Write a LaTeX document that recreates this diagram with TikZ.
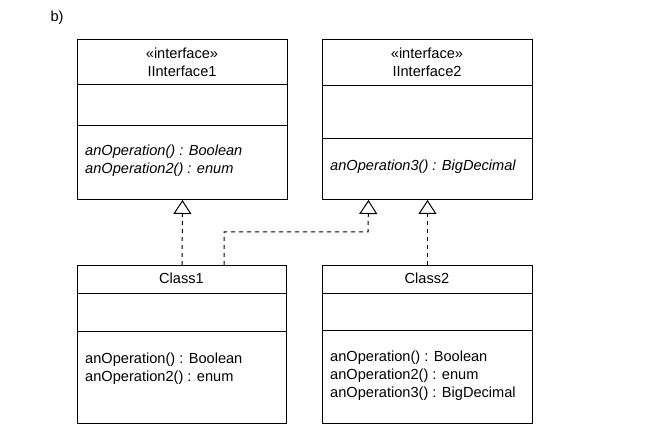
\documentclass[tikz,border=0pt]{standalone}
\usepackage{fontspec}
\setmainfont{Liberation Sans}
\usetikzlibrary{arrows.meta}
\tikzset{
	umlbox/.style={draw, line width=1pt, anchor=north west, inner sep=0pt},
	optext/.style={anchor=west, align=left, inner sep=0pt, font=\fontsize{14.6}{18}\selectfont},
	headtext/.style={align=center, inner sep=0pt, font=\fontsize{14.6}{18}\selectfont},
	realize/.style={line width=1pt, dash pattern=on 4pt off 4pt, -{Triangle[open, width=18pt, length=14pt]}}
}
\begin{document}
\begin{tikzpicture}[x=1pt,y=-1pt]
		\path[use as bounding box] (0,0) rectangle (669,438);
		\node[headtext] (lbl) at (57,18) {b)};
		
		% interfaces
		\node[umlbox, minimum width=210, minimum height=160] (i1) at (77,39) {};
		\draw[line width=1pt] (77,85) -- (287,85) (77,126) -- (287,126);
		\node[headtext] (i1name) at (182,62) {«interface»\\IInterface1};
		\node[optext] (i1ops) at (85,161) {\itshape anOperation() : Boolean\\\itshape anOperation2() : enum};
		
		\node[umlbox, minimum width=210, minimum height=160] (i2) at (322,39) {};
		\draw[line width=1pt] (322,86) -- (532,86) (322,139) -- (532,139);
		\node[headtext] (i2name) at (427,62) {«interface»\\IInterface2};
		\node[optext] (i2ops) at (330,167) {\itshape anOperation3() : BigDecimal};
		
		% classes
		\node[umlbox, minimum width=209, minimum height=158] (c1) at (77,265) {};
		\draw[line width=1pt] (77,293) -- (286,293) (77,331) -- (286,331);
		\node[headtext] (c1name) at (181.5,278) {Class1};
		\node[optext] (c1ops) at (85,368.5) {anOperation() : Boolean\\anOperation2() : enum};
		
		\node[umlbox, minimum width=210, minimum height=158] (c2) at (322,265) {};
		\draw[line width=1pt] (322,293) -- (532,293) (322,330) -- (532,330);
		\node[headtext] (c2name) at (427,278) {Class2};
		\node[optext] (c2ops) at (330,376) {anOperation() : Boolean\\anOperation2() : enum\\anOperation3() : BigDecimal};
		
		% realizations
		\coordinate (bend) at (368,232);
		\draw[realize] (c1.north) -- (i1.south);
		\draw[realize] ([xshift=42]c1.north) |- (bend) -- ([xshift=-59]i2.south);
		\draw[realize] (c2.north) -- (i2.south);
		
	\end{tikzpicture}
\end{document}
